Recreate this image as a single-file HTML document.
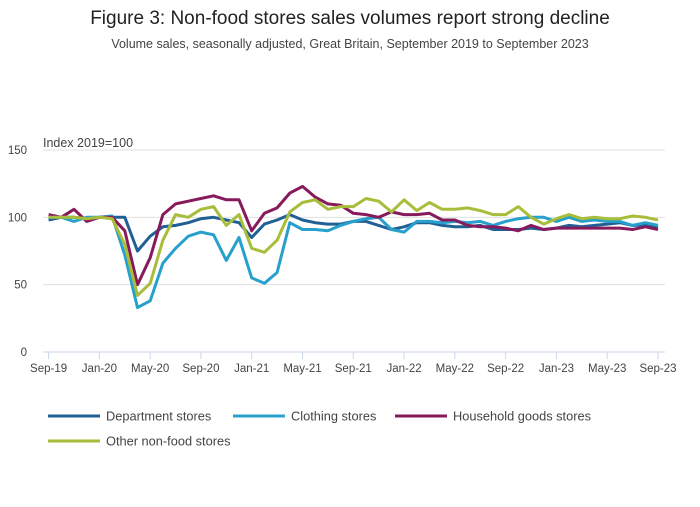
<!DOCTYPE html>
<html><head><meta charset="utf-8"><style>
body{margin:0;background:#fff;font-family:"Liberation Sans","DejaVu Sans",sans-serif;}
svg text{font-family:"Liberation Sans","DejaVu Sans",sans-serif;}
</style></head><body>
<svg id="chart" width="700" height="502" viewBox="0 0 700 502">
<text x="350" y="24" text-anchor="middle" font-size="19" fill="#222">Figure 3: Non-food stores sales volumes report strong decline</text>
<text x="350" y="48" text-anchor="middle" font-size="12.5" fill="#444">Volume sales, seasonally adjusted, Great Britain, September 2019 to September 2023</text>
<text x="43" y="147" font-size="12.5" fill="#444">Index 2019=100</text>
<g id="grid"></g><g id="series"></g><g id="legend"></g>
</svg>
<script>
const tickLabels=["Sep-19","Jan-20","May-20","Sep-20","Jan-21","May-21","Sep-21","Jan-22","May-22","Sep-22","Jan-23","May-23","Sep-23"];
const yTicks=[0,50,100,150];
const department=[98,100,100,99,100,100,100,75,86,93,94,96,99,100,98,96,85,95,98,102,98,96,95,95,97,97,94,91,93,96,96,94,93,93,94,91,91,91,92,91,92,94,93,94,95,96,94,94,93];
const clothing=[100,100,97,100,100,101,72,33,38,66,77,86,89,87,68,85,55,51,59,96,91,91,90,94,97,99,100,91,89,97,97,96,97,96,97,94,97,99,100,100,97,100,97,98,97,97,94,96,94];
const household=[102,100,106,97,100,100,90,50,70,102,110,112,114,116,113,113,90,103,107,118,123,115,110,109,103,102,100,104,102,102,103,98,98,94,93,93,92,90,94,91,92,92,92,92,92,92,91,93,91];
const other=[100,100,100,99,100,99,80,42,51,83,102,100,106,108,94,102,77,74,83,104,111,113,106,108,108,114,112,104,113,105,111,106,106,107,105,102,102,108,100,95,99,102,99,100,99,99,101,100,98];
const seriesNames=["Department stores","Clothing stores","Household goods stores","Other non-food stores"];
const colors=["#206095","#27a0cc","#871a5b","#a8bd3a"];
const NS="http://www.w3.org/2000/svg";
const x0=48.6,x1=658,y0=352,y1=150;
function xs(i){return x0+(x1-x0)*i/48;}
function ys(v){return y0-(y0-y1)*v/150;}
function mk(t,a,p){const e=document.createElementNS(NS,t);for(const k in a)e.setAttribute(k,a[k]);p.appendChild(e);return e;}
const grid=document.getElementById('grid');
yTicks.forEach(v=>{
 if(v>0){const l=mk('line',{x1:43,x2:665,y1:ys(v),y2:ys(v),stroke:'#e0e0e0','stroke-width':1},grid);
 
 }
 const t=mk('text',{x:27,y:ys(v)+4,'text-anchor':'end','font-size':11.5,fill:'#444'},grid);t.textContent=v;
 
 
});
const ax=mk('line',{x1:43,x2:665,y1:y0,y2:y0,stroke:'#ccd6eb','stroke-width':1},grid);


tickLabels.forEach((lab,k)=>{
 const x=xs(k*4);
 const tk=mk('line',{x1:x,x2:x,y1:y0,y2:y0+7,stroke:'#ccd6eb'},grid);
 
 
 const t=mk('text',{x:x,y:372,'text-anchor':'middle','font-size':11.5,fill:'#444'},grid);t.textContent=lab;
 
 
});
const sg=document.getElementById('series');
[department,clothing,household,other].forEach((d,s)=>{
 const p=mk('polyline',{points:d.map((v,i)=>xs(i).toFixed(1)+','+ys(v).toFixed(1)).join(' '),fill:'none',stroke:colors[s],'stroke-width':3,'stroke-linejoin':'round'},sg);
 
 
});
const lg=document.getElementById('legend');
const pos=[[48,416],[233,416],[395,416],[48,441]];
seriesNames.forEach((n,s)=>{
 const g=mk('g',{},lg);
 
 
 mk('line',{x1:pos[s][0],x2:pos[s][0]+52,y1:pos[s][1],y2:pos[s][1],stroke:colors[s],'stroke-width':3},g);
 const t=mk('text',{x:pos[s][0]+58,y:pos[s][1]+4.5,'font-size':12.8,fill:'#444'},g);t.textContent=n;
});
</script>
</body></html>
